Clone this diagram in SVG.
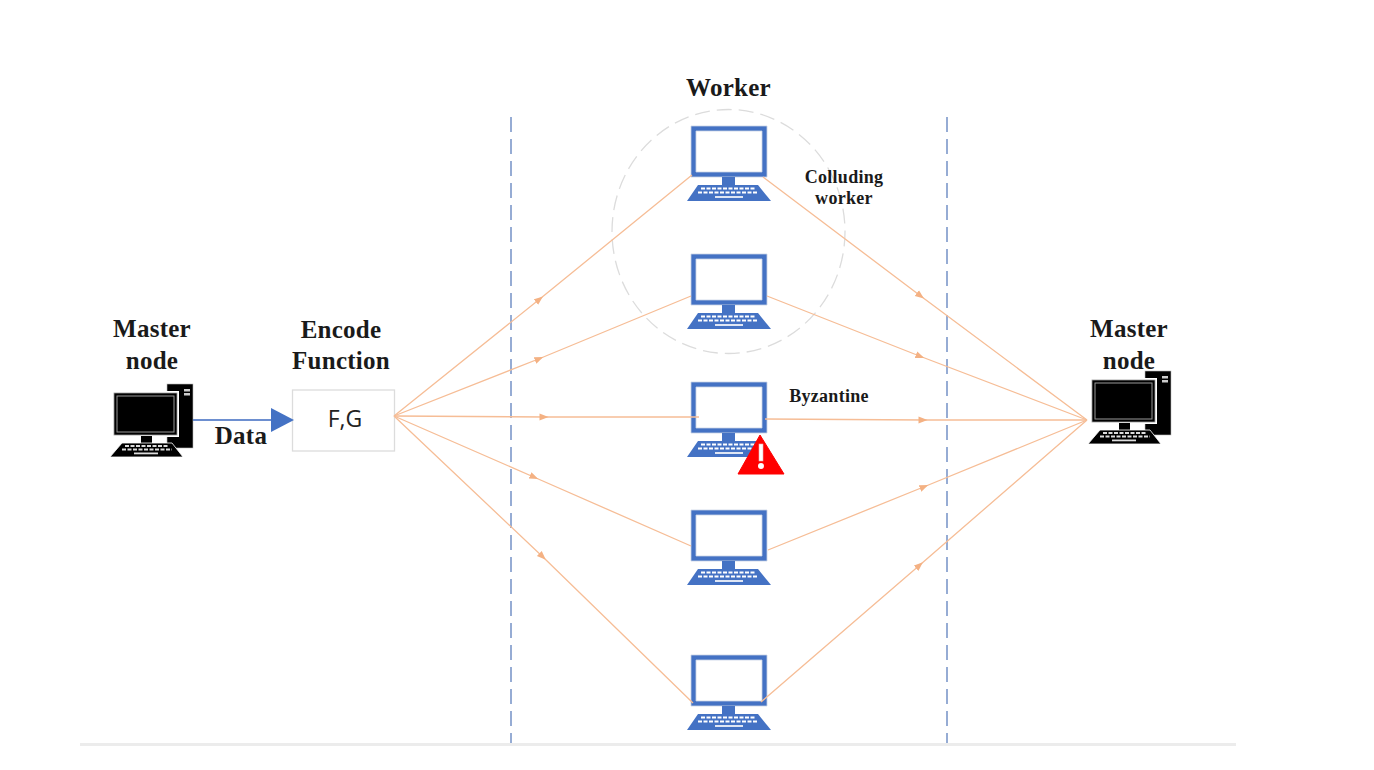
<svg xmlns="http://www.w3.org/2000/svg" width="1374" height="770" viewBox="0 0 1374 770">
<style>
.t{font-family:"Liberation Serif","Times New Roman",serif;font-weight:700;fill:#1a1a1a;text-anchor:middle}
.big{font-size:25px;letter-spacing:.25px}
.small{font-size:18px;letter-spacing:.3px}
.flow{fill:none;stroke:#f6bd96;stroke-width:1.3;marker-mid:url(#fa)}
.dash{stroke:#5f80bd;stroke-width:1.3;stroke-dasharray:15 7}
.key{stroke-width:2;stroke-dasharray:4 1.5}
</style>
<defs>
<marker id="fa" markerUnits="userSpaceOnUse" markerWidth="12" markerHeight="10" refX="6.500" refY="4" orient="auto"><path d="M0 0.500L9 4L0 7.500Z" fill="#f4b183"/></marker>
<symbol id="pc" overflow="visible">
<path d="M0 0H76V51H0ZM5 5V46H71V5Z" fill-rule="evenodd" fill="#4472c4" stroke="#c9d3e6" stroke-width=".8"/>
<rect x="31" y="51" width="13" height="8" fill="#4472c4"/>
<path d="M7 59H67L80 75H-4Z" fill="#4472c4"/>
<g stroke="#fff" class="key"><line x1="10" y1="62.500" x2="64" y2="62.500"/><line x1="7" y1="66.500" x2="67" y2="66.500"/></g>
<rect x="24" y="70" width="28" height="2" fill="#dfe6f4"/>
</symbol>
<symbol id="master" overflow="visible">
<rect x="57" y="0" width="26" height="64" fill="#000" stroke="#bbb" stroke-width=".6"/>
<rect x="74" y="5" width="6" height="2.500" fill="#ccc"/><rect x="74" y="9" width="6" height="2.500" fill="#ccc"/>
<rect x="3" y="8" width="65" height="44" fill="#000" stroke="#fff" stroke-width="2"/>
<rect x="4" y="9" width="63" height="42" fill="none" stroke="#999" stroke-width=".8"/>
<rect x="7" y="12" width="57" height="36" fill="none" stroke="#999" stroke-width="1"/>
<rect x="31" y="52" width="11" height="7" fill="#000"/>
<path d="M12 59H62L73 73H0Z" fill="#000" stroke="#fff" stroke-width=".8"/>
<g stroke="#ddd" class="key" stroke-width="1.500"><line x1="15" y1="62" x2="59" y2="62"/><line x1="12" y1="65.500" x2="62" y2="65.500"/></g>
<rect x="24" y="68.500" width="24" height="1.800" fill="#ddd"/>
</symbol>
</defs>
<rect width="1374" height="770" fill="#fff"/>
<rect x="80" y="743" width="1156" height="3" fill="#ececec"/>
<g id="guides">
<line class="dash" x1="511" y1="117" x2="511" y2="743"/>
<line class="dash" x1="947" y1="117" x2="947" y2="743"/>
<ellipse cx="728.500" cy="231.500" rx="116.500" ry="122" fill="none" stroke="#dcdcdc" stroke-width="1.300" stroke-dasharray="15 7"/>
</g>
<g id="master-left"><use href="#master" x="110" y="384"/><text class="t big" x="152" y="337">Master</text><text class="t big" x="152" y="369">node</text></g>
<text id="label-data" class="t big" x="241" y="444">Data</text>
<g id="encode"><text class="t big" x="341" y="338">Encode</text><text class="t big" x="341" y="369">Function</text>
<rect x="292.500" y="390" width="102" height="61" fill="#fff" stroke="#dcdcdc" stroke-width="1.300"/>
<text x="345" y="427" font-family="'Open Sans','Noto Sans',sans-serif" font-size="23" fill="#222" text-anchor="middle">F,G</text></g>
<text id="label-worker" class="t big" x="728.500" y="96">Worker</text>
<g id="worker-1"><use href="#pc" x="691" y="126"/></g>
<text class="t small" x="844" y="183">Colluding</text><text class="t small" x="844" y="204">worker</text>
<g id="worker-2"><use href="#pc" x="691" y="254"/></g>
<g id="worker-3"><use href="#pc" x="691" y="382"/></g>
<text class="t small" x="829" y="402">Byzantine</text>
<g id="worker-4"><use href="#pc" x="691" y="510"/></g>
<g id="worker-5"><use href="#pc" x="691" y="655"/></g>
<g id="master-right"><text class="t big" x="1129" y="337">Master</text><text class="t big" x="1129" y="369">node</text><use href="#master" x="1088" y="371"/></g>
<g id="connectors">
<polyline class="flow" points="394,416 541,298 692,175"/>
<polyline class="flow" points="394,416 541,358 691,296"/>
<polyline class="flow" points="394,416 546,417 699,417"/>
<polyline class="flow" points="394,416 536,478 691,546"/>
<polyline class="flow" points="394,416 544,558 693,703"/>
<polyline class="flow" points="763,177 922,297 1087,420"/>
<polyline class="flow" points="767,296 922,357 1087,420"/>
<polyline class="flow" points="765,419 925,420 1087,420"/>
<polyline class="flow" points="768,550 926,486 1087,420"/>
<polyline class="flow" points="761,702 921,564 1087,420"/>
<line x1="193" y1="420" x2="272" y2="420" stroke="#6d8fd0" stroke-width="1.800"/>
<path d="M271 408L294 420L271 432Z" fill="#4472c4"/>
</g>
<g id="byzantine-warning">
<path d="M760 435L784 474H738Z" fill="#f00" stroke="#f00" stroke-width="1" stroke-linejoin="round"/>
<rect x="759" y="444" width="4" height="17" fill="#fff" stroke="#e8b0b0" stroke-width=".6"/><circle cx="761" cy="466" r="3" fill="#fff"/></g>
</svg>
